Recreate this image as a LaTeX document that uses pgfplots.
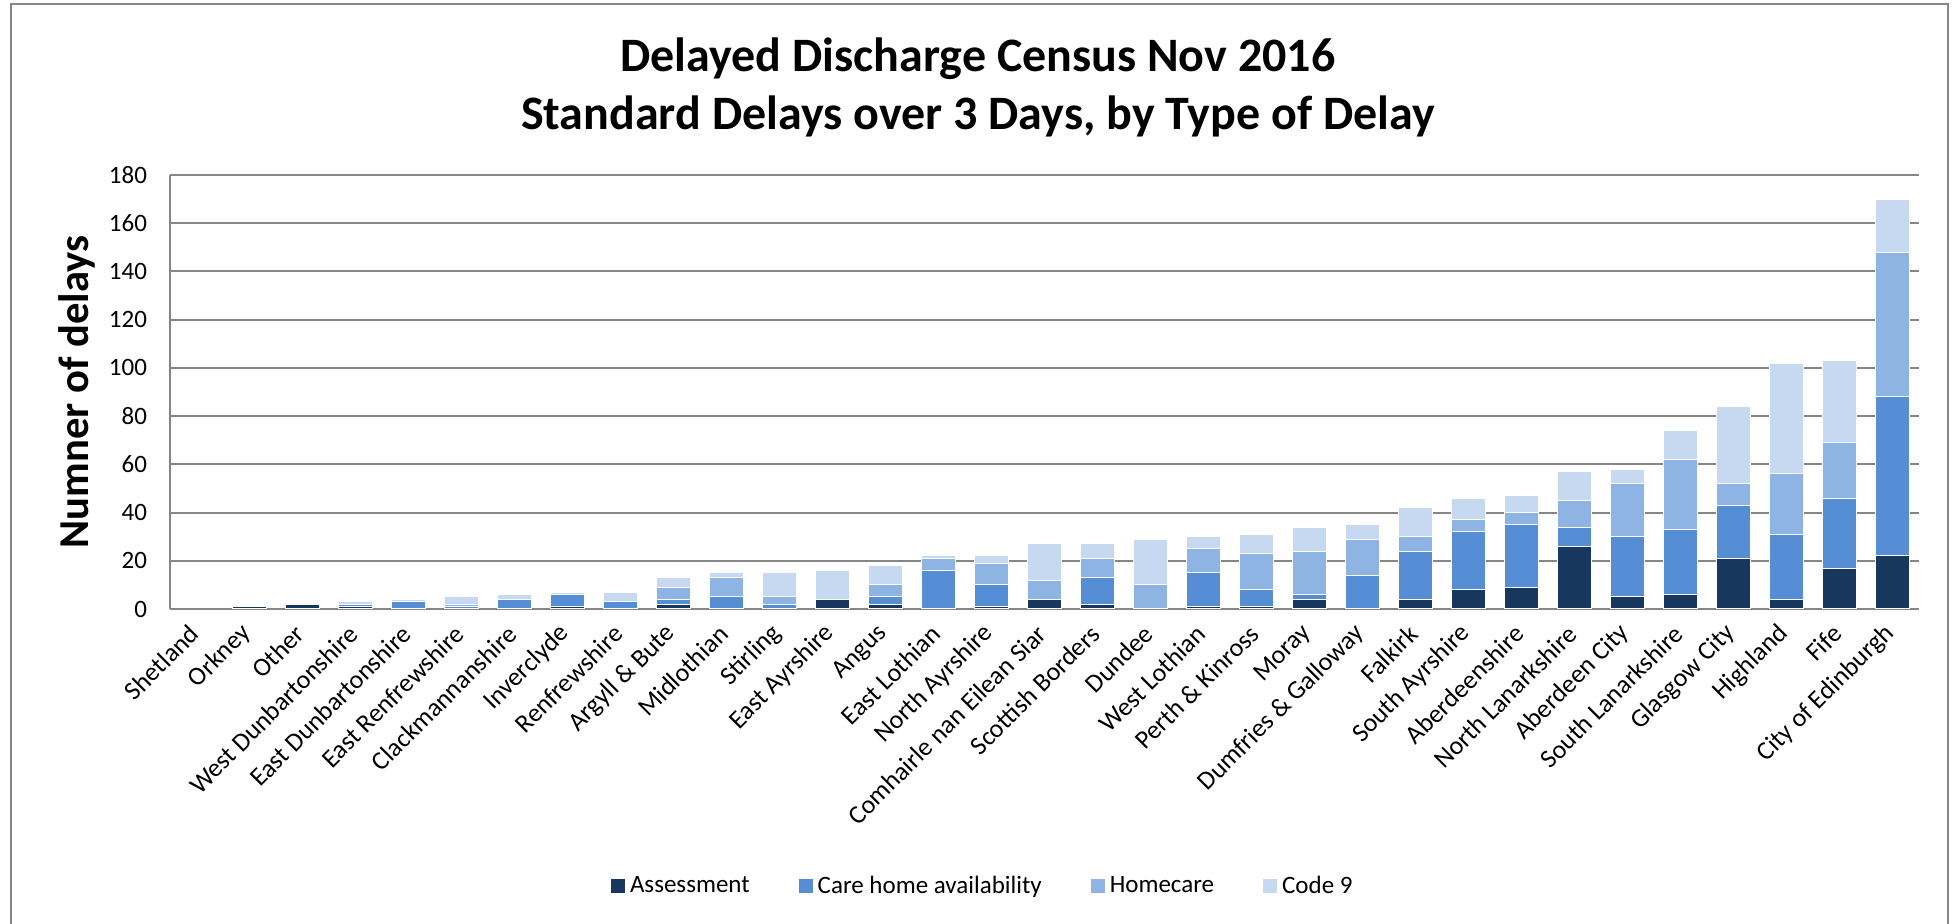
\documentclass[border=0pt]{standalone}
\usepackage{fontspec}
\setmainfont{Carlito}
\usepackage{pgfplots}
\usepackage{pgfplotstable}
\pgfplotsset{compat=1.18}

\definecolor{assess}{HTML}{17375E}
\definecolor{carehome}{HTML}{558ED5}
\definecolor{homecare}{HTML}{8EB4E3}
\definecolor{codenine}{HTML}{C6D9F1}
\definecolor{gridgray}{HTML}{868686}

% areas in the same order as the tick labels below
\pgfplotstableread{
idx assess care home code9
0   0  0  0  0
1   1  0  0  0
2   2  0  0  0
3   1  1  0  1
4   0  3  0  1
5   0  1  1  3
6   0  4  0  2
7   1  5  0  1
8   0  3  0  4
9   2  2  5  4
10  0  5  8  2
11  0  2  3  10
12  4  0  0  12
13  2  3  5  8
14  0  16 5  1
15  1  9  9  3
16  4  0  8  15
17  2  11 8  6
18  0  0  10 19
19  1  14 10 5
20  1  7  15 8
21  4  2  18 10
22  0  14 15 6
23  4  20 6  12
24  8  24 5  9
25  9  26 5  7
26  26 8  11 12
27  5  25 22 6
28  6  27 29 12
29  21 22 9  32
30  4  27 25 46
31  17 29 23 34
32  22 66 60 22
}\delays

\begin{document}
\begin{tikzpicture}
\useasboundingbox (0,0) rectangle (976.5pt,462pt);
\draw[gridgray, line width=1.2pt] (5.5pt,-5pt) |- (974pt,460pt) -- (974pt,-5pt);
\node[font=\fontsize{24}{29}\selectfont\bfseries, align=center] at (489pt,418.5pt)
  {Delayed Discharge Census Nov 2016\\Standard Delays over 3 Days, by Type of Delay};
\begin{axis}[
  at={(85pt,157.5pt)}, anchor=south west,
  scale only axis, width=874.5pt, height=217pt,
  ybar stacked, bar width=17pt,
  xmin=-0.5, xmax=32.5, ymin=0, ymax=180,
  ytick={0,20,...,180}, xtick={0,...,32},
  xticklabels={Shetland, Orkney, Other, West Dunbartonshire, East Dunbartonshire,
    East Renfrewshire, Clackmannanshire, Inverclyde, Renfrewshire, Argyll \& Bute,
    Midlothian, Stirling, East Ayrshire, Angus, East Lothian, North Ayrshire,
    Comhairle nan Eilean Siar, Scottish Borders, Dundee, West Lothian,
    Perth \& Kinross, Moray, Dumfries \& Galloway, Falkirk, South Ayrshire,
    Aberdeenshire, North Lanarkshire, Aberdeen City, South Lanarkshire,
    Glasgow City, Highland, Fife, City of Edinburgh},
  axis lines*=left,
  axis line style={gridgray, line width=1pt},
  major tick length=0pt,
  ymajorgrids, grid style={gridgray, line width=1pt},
  ticklabel style={font=\fontsize{12.5}{15}\selectfont},
  /pgf/number format/assume math mode=true,
  yticklabel style={xshift=-8pt},
  xticklabel style={rotate=45, anchor=east, xshift=-4.6pt, yshift=-6.4pt,
    font=\fontsize{13}{16}\selectfont},
  ylabel={Numner of delays},
  ylabel style={font=\fontsize{21.3}{25}\selectfont\bfseries, at={(axis description cs:-0.0532,0.5)}, anchor=center},
  legend columns=4,
  legend style={at={(axis description cs:0.465,-0.638)}, anchor=center, draw=none,
    font=\fontsize{12.5}{15}\selectfont,
    /tikz/every even column/.append style={column sep=22pt}},
  legend image code/.code={\fill[#1] (0pt,-3.75pt) rectangle (7.5pt,3.75pt);},
]
\addplot[fill=assess, draw=white, line width=0.5pt] table[x=idx, y=assess] {\delays};
\addplot[fill=carehome, draw=white, line width=0.5pt] table[x=idx, y=care] {\delays};
\addplot[fill=homecare, draw=white, line width=0.5pt] table[x=idx, y=home] {\delays};
\addplot[fill=codenine, draw=white, line width=0.5pt] table[x=idx, y=code9] {\delays};
\legend{Assessment, Care home availability, Homecare, Code 9}
\end{axis}
\end{tikzpicture}
\end{document}
